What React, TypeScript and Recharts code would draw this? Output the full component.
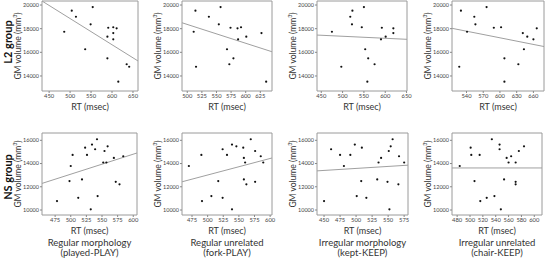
import React from 'react';
import { ScatterChart, Scatter, XAxis, YAxis, ReferenceLine, ReferenceArea } from 'recharts';

// GM volume vs RT, L2 (top row) and NS (bottom row) groups

const rowLabels = ['L2 group', 'NS group'];
const conditionNames = ['Regular morphology', 'Regular unrelated', 'Irregular morphology', 'Irregular unrelated'];
const conditionPairs = ['(played-PLAY)', '(fork-PLAY)', '(kept-KEEP)', '(chair-KEEP)'];

// L2 group: one volume per subject, RT per condition
const l2Volume = [17740, 19520, 19010, 16260, 18370, 19830, 18080, 17320, 15490, 18120, 17630, 17100, 18030, 14990, 14780, 13520];
const l2RtRegMorph = [486, 504, 514, 536, 549, 554, 591, 589, 589, 603, 603, 603, 611, 635, 641, 615];
const l2RtRegUnrel = [511, 514, 537, 568, 554, 557, 574, 601, 579, 592, 627, 587, 586, 572, 515, 635];
const l2RtIrrMorph = [475, 523, 518, 553, 522, 550, 592, 601, 560, 545, 619, 590, 619, 575, 497, 558];
const l2RtIrrUnrel = [541, 530, 554, 643, 556, 576, 589, 649, 608, 602, 641, 660, 666, 633, 527, 608];

// NS group
const nsVolume = [10770, 13790, 12490, 14740, 11050, 12630, 15370, 14740, 10060, 15630, 15230, 16090, 11200, 14090, 15080, 15480, 14480, 12430, 12210, 14630, 14090];
const nsRtRegMorph = [478, 500, 498, 503, 512, 518, 523, 526, 532, 534, 539, 542, 543, 552, 554, 559, 569, 572, 578, 584, 557];
const nsRtRegUnrel = [491, 470, 517, 490, 524, 558, 557, 531, 539, 539, 524, 569, 506, 560, 576, 546, 558, 576, 562, 585, 589];
const nsRtIrrMorph = [450, 481, 508, 475, 516, 533, 509, 491, 552, 498, 461, 557, 501, 535, 551, 554, 539, 549, 566, 567, 575];
const nsRtIrrUnrel = [516, 484, 507, 502, 526, 553, 501, 515, 548, 546, 546, 534, 538, 560, 576, 584, 557, 571, 571, 564, 571];

const l2VolumeTicks = [14000, 16000, 18000, 20000];
const nsVolumeTicks = [10000, 12000, 14000, 16000];
const l2VolumeDomain = [12730, 20340];
const nsVolumeDomain = [9570, 16630];

const l2RtTicks = [
  [450, 500, 550, 600, 650],
  [500, 525, 550, 575, 600, 625],
  [450, 500, 550, 600, 650],
  [540, 570, 600, 630, 660],
];
const nsRtTicks = [
  [475, 500, 525, 550, 575, 600],
  [475, 500, 525, 550, 575, 600],
  [450, 475, 500, 525, 550, 575],
  [480, 500, 520, 540, 560, 580, 600],
];
const l2RtDomains = [[433, 662], [491, 645], [440, 651], [514, 679]];
const nsRtDomains = [[454, 606], [459, 603], [439, 581], [472, 612]];

// fit lines: [rtStart, volStart, rtEnd, volEnd]
const l2Fits = [
  [433, 20340, 662, 15270],
  [491, 18500, 645, 16050],
  [440, 17460, 651, 17100],
  [514, 18030, 679, 16490],
];
const nsFits = [
  [454, 12290, 606, 14910],
  [459, 12430, 603, 14480],
  [439, 13370, 581, 13860],
  [472, 13620, 612, 13620],
];

const FONT = "Lato, 'Open Sans', sans-serif";
const BOX_LEFTS = [42, 182, 317, 452];
const Y_AXIS_W = 24;
const X_AXIS_H = 12;
const RIGHT_PAD = 8;

const Dot = (props: any) => <circle cx={props.cx} cy={props.cy} r={1.1} fill="#111" />;

interface PanelProps {
  xs: number[];
  ys: number[];
  xDomain: number[];
  yDomain: number[];
  xTicks: number[];
  yTicks: number[];
  fit: number[];
  left: number;
  top: number;
  width: number;
  height: number;
}

function Panel({ xs, ys, xDomain, yDomain, xTicks, yTicks, fit, left, top, width, height }: PanelProps) {
  const data = xs.map((x, i) => ({ x, y: ys[i] }));
  return (
    <div style={{ position: 'absolute', left: left - Y_AXIS_W, top: top - 1 }}>
      <ScatterChart
        width={Y_AXIS_W + width + RIGHT_PAD}
        height={1 + height + X_AXIS_H}
        margin={{ top: 1, right: RIGHT_PAD, bottom: 0, left: 0 }}
      >
        <XAxis
          type="number"
          dataKey="x"
          domain={xDomain}
          ticks={xTicks}
          allowDataOverflow
          height={X_AXIS_H}
          tickSize={2}
          tickMargin={1}
          axisLine={false}
          tickLine={{ stroke: '#888' }}
          tick={{ fontSize: 5.8, fill: '#444', fontFamily: FONT }}
          interval={0}
        />
        <YAxis
          type="number"
          dataKey="y"
          domain={yDomain}
          ticks={yTicks}
          allowDataOverflow
          width={Y_AXIS_W}
          tickSize={2}
          tickMargin={1}
          axisLine={false}
          tickLine={{ stroke: '#888' }}
          tick={{ fontSize: 5.5, fill: '#444', fontFamily: FONT }}
          interval={0}
        />
        <ReferenceArea
          x1={xDomain[0]}
          x2={xDomain[1]}
          y1={yDomain[0]}
          y2={yDomain[1]}
          fill="#fff"
          fillOpacity={0}
          stroke="#9a9a9a"
          strokeWidth={1}
        />
        <ReferenceLine
          segment={[{ x: fit[0], y: fit[1] }, { x: fit[2], y: fit[3] }]}
          stroke="#a0a0a0"
          strokeWidth={1}
        />
        <Scatter data={data} shape={Dot} isAnimationActive={false} />
      </ScatterChart>
    </div>
  );
}

function YLabel({ x, y }: { x: number; y: number }) {
  return (
    <div
      style={{
        position: 'absolute',
        left: x,
        top: y,
        transform: 'translate(-50%, -50%) rotate(-90deg)',
        whiteSpace: 'nowrap',
        fontSize: 8.5,
        lineHeight: 1,
        color: '#333',
        fontFamily: FONT,
      }}
    >
      GM volume (mm<sup style={{ fontSize: 5.5, lineHeight: 0 }}>3</sup>)
    </div>
  );
}

function Centered({ x, y, text, size = 9, bold = false, rotate = false }: any) {
  return (
    <div
      style={{
        position: 'absolute',
        left: x,
        top: y,
        transform: `translate(-50%, -50%)${rotate ? ' rotate(-90deg)' : ''}`,
        whiteSpace: 'nowrap',
        fontSize: size,
        fontWeight: bold ? 700 : 400,
        color: bold ? '#111' : '#333',
        fontFamily: FONT,
        lineHeight: 1,
      }}
    >
      {text}
    </div>
  );
}

export default function App() {
  const l2Rts = [l2RtRegMorph, l2RtRegUnrel, l2RtIrrMorph, l2RtIrrUnrel];
  const nsRts = [nsRtRegMorph, nsRtRegUnrel, nsRtIrrMorph, nsRtIrrUnrel];
  const row1 = { top: 1, height: 90 };
  const row2 = { top: 133, height: 82 };
  const widths = [96, 90, 90, 92];
  const widths2 = [95, 90, 91, 90];

  return (
    <div style={{ position: 'absolute', left: 0, top: 0, width: 547, height: 258, background: '#fff', fontFamily: FONT, overflow: 'hidden' }}>
      <Centered x={6.5} y={42} text={rowLabels[0]} size={11} bold rotate />
      <Centered x={6.5} y={177} text={rowLabels[1]} size={11} bold rotate />

      {l2Rts.map((xs, i) => (
        <React.Fragment key={'l2' + i}>
          <Panel
            xs={xs}
            ys={l2Volume}
            xDomain={l2RtDomains[i]}
            yDomain={l2VolumeDomain}
            xTicks={l2RtTicks[i]}
            yTicks={l2VolumeTicks}
            fit={l2Fits[i]}
            left={BOX_LEFTS[i]}
            top={row1.top}
            width={widths[i]}
            height={row1.height}
          />
          <YLabel x={BOX_LEFTS[i] - 24} y={row1.top + row1.height / 2} />
          <Centered x={BOX_LEFTS[i] + widths[i] / 2} y={106} text="RT (msec)" />
        </React.Fragment>
      ))}

      {nsRts.map((xs, i) => (
        <React.Fragment key={'ns' + i}>
          <Panel
            xs={xs}
            ys={nsVolume}
            xDomain={nsRtDomains[i]}
            yDomain={nsVolumeDomain}
            xTicks={nsRtTicks[i]}
            yTicks={nsVolumeTicks}
            fit={nsFits[i]}
            left={BOX_LEFTS[i]}
            top={row2.top}
            width={widths2[i]}
            height={row2.height}
          />
          <YLabel x={BOX_LEFTS[i] - 24} y={row2.top + row2.height / 2} />
          <Centered x={BOX_LEFTS[i] + widths2[i] / 2} y={230} text="RT (msec)" />
          <Centered x={BOX_LEFTS[i] + widths2[i] / 2} y={243} text={conditionNames[i]} size={9.5} />
          <Centered x={BOX_LEFTS[i] + widths2[i] / 2} y={253} text={conditionPairs[i]} size={9.5} />
        </React.Fragment>
      ))}
    </div>
  );
}
